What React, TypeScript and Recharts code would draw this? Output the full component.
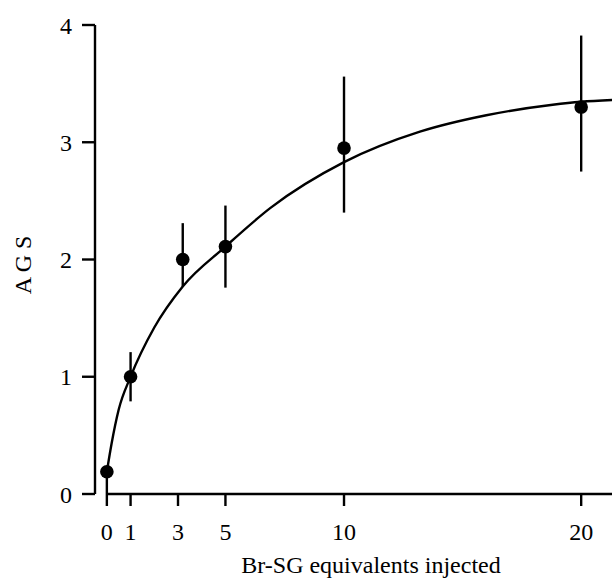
import {
  ComposedChart,
  Line,
  Scatter,
  ErrorBar,
  XAxis,
  YAxis,
  ReferenceLine,
  Label,
} from "recharts";

// measured points (mean ± error)
const doses = [0, 1, 3.2, 5, 10, 20];
const ags = [0.19, 1.0, 2.0, 2.11, 2.95, 3.3];
const errLow = [0.19, 0.21, 0.23, 0.35, 0.55, 0.55];
const errHigh = [0, 0.21, 0.31, 0.35, 0.61, 0.61];

// fitted curve
const fitX = [0, 0.2, 0.5, 1, 2, 3.2, 5, 6.9, 10, 13.2, 16, 18.8, 20, 21.3];
const fitY = [0.19, 0.43, 0.72, 1.0, 1.42, 1.77, 2.11, 2.44, 2.83, 3.09, 3.23, 3.32, 3.345, 3.36];

const xTicks = [0, 1, 3, 5, 10, 20];
const yTicks = [0, 1, 2, 3, 4];

const points = doses.map((x, i) => ({ x, y: ags[i], err: [errLow[i], errHigh[i]] }));
const curve = fitX.map((x, i) => ({ x, y: fitY[i] }));

const FONT = "'Liberation Serif', 'DejaVu Serif', serif";
const INK = "#000";

const Dot = (props: any) => <circle cx={props.cx} cy={props.cy} r={6.8} fill={INK} />;

export default function App() {
  return (
    <div style={{ position: "absolute", left: 0, top: 0, background: "#fff" }}>
      <ComposedChart width={612} height={587} margin={{ top: 25, right: 0, bottom: 0, left: 0 }}>
        <XAxis
          type="number"
          dataKey="x"
          domain={[-0.5, 21.3]}
          allowDataOverflow
          ticks={xTicks}
          interval={0}
          axisLine={false}
          tickSize={12}
          tickMargin={17}
          height={93}
          tickLine={{ stroke: INK, strokeWidth: 2.4 }}
          tick={{ fill: INK, fontSize: 24, fontFamily: FONT }}
        >
          <Label
            content={() => (
              <text x={371} y={573} textAnchor="middle" fill={INK} fontSize={24} fontFamily={FONT}>
                Br-SG equivalents injected
              </text>
            )}
          />
        </XAxis>
        <YAxis
          type="number"
          dataKey="y"
          domain={[0, 4]}
          ticks={yTicks}
          interval={0}
          width={95}
          tickSize={13}
          tickMargin={10}
          axisLine={{ stroke: INK, strokeWidth: 2.4 }}
          tickLine={{ stroke: INK, strokeWidth: 2.4 }}
          tick={{ fill: INK, fontSize: 24, fontFamily: FONT }}
        >
          <Label
            content={() => (
              <text
                x={31}
                y={265}
                transform="rotate(-90, 31, 265)"
                textAnchor="middle"
                fill={INK}
                fontSize={24}
                fontFamily={FONT}
              >
                A G S
              </text>
            )}
          />
        </YAxis>
        <ReferenceLine
          segment={[
            { x: 0, y: 0 },
            { x: 21.3, y: 0 },
          ]}
          stroke={INK}
          strokeWidth={2.4}
          ifOverflow="visible"
        />
        <Line
          data={curve}
          dataKey="y"
          type="monotone"
          stroke={INK}
          strokeWidth={2.4}
          dot={false}
          activeDot={false}
          isAnimationActive={false}
        />
        <Scatter data={points} dataKey="y" shape={Dot} isAnimationActive={false}>
          <ErrorBar dataKey="err" direction="y" width={0} stroke={INK} strokeWidth={2.4} />
        </Scatter>
      </ComposedChart>
    </div>
  );
}
